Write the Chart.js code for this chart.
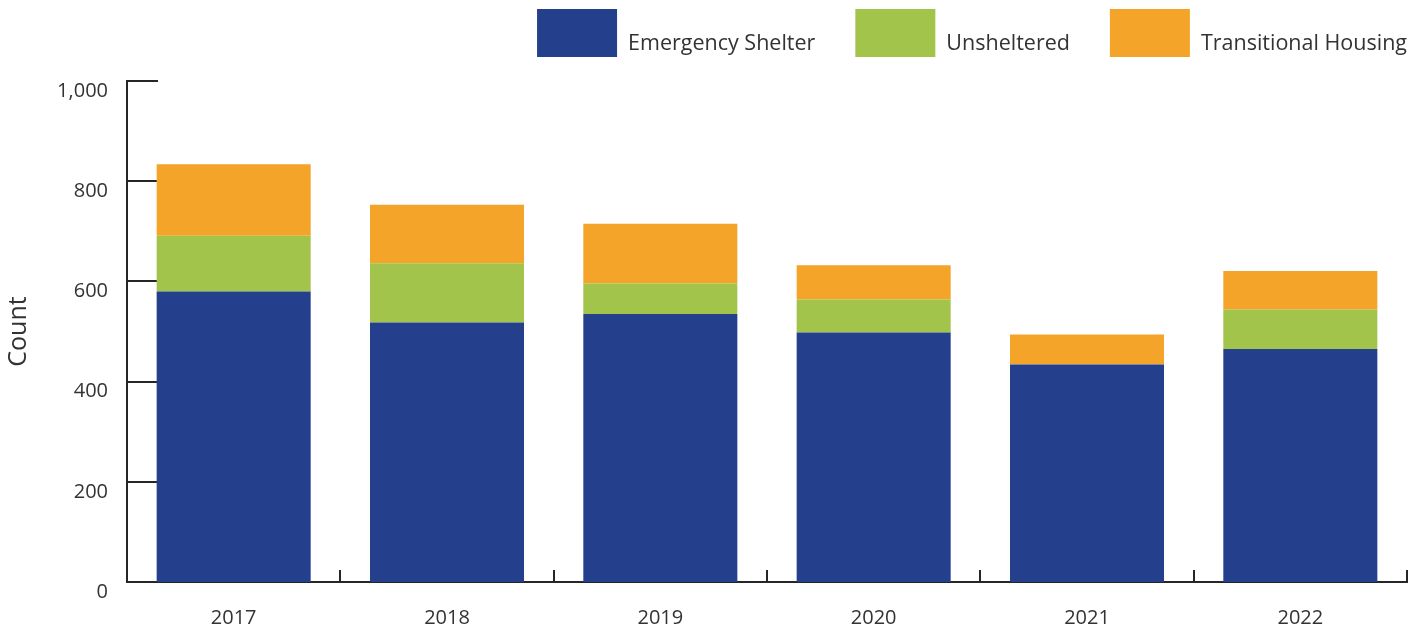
<!DOCTYPE html>
<html>
<head>
<meta charset="utf-8">
<script src="https://cdn.jsdelivr.net/npm/chart.js@4/dist/chart.umd.min.js"></script>
<style>
  html, body { margin: 0; padding: 0; background: #fff; }
  #wrap { width: 1424px; height: 635px; }
</style>
</head>
<body>
<div id="wrap"><canvas id="countChart"></canvas></div>
<script>
const years = ['2017', '2018', '2019', '2020', '2021', '2022'];
const emergencyShelter = [580, 518, 535, 498, 434, 465];
const unsheltered = [111, 118, 61, 66, 0, 79];
const transitionalHousing = [143, 117, 119, 68, 60, 77];
const yTicks = [0, 200, 400, 600, 800, 1000];

const FONT = "'Open Sans', 'Noto Sans', sans-serif";
const INK = '#333333';
const AXIS = '#262626';

// short inward ticks on both axes, drawn under the bars
const innerTicks = {
  id: 'innerTicks',
  beforeDatasetsDraw(chart) {
    const { ctx, chartArea, scales: { x, y } } = chart;
    ctx.save();
    ctx.strokeStyle = AXIS;
    ctx.lineWidth = 2;
    ctx.beginPath();
    yTicks.forEach(v => {
      const py = Math.round(y.getPixelForValue(v));
      ctx.moveTo(chartArea.left, py);
      ctx.lineTo(chartArea.left + 31, py);
    });
    for (let i = 0; i <= years.length; i++) {
      let px;
      if (i === 0) px = chartArea.left;
      else if (i === years.length) px = chartArea.right;
      else px = (x.getPixelForTick(i - 1) + x.getPixelForTick(i)) / 2;
      px = Math.round(px);
      ctx.moveTo(px, chartArea.bottom);
      ctx.lineTo(px, chartArea.bottom - 12);
    }
    ctx.stroke();
    ctx.restore();
  }
};

// legend row of big swatches, right aligned over the plot
const swatchLegend = {
  id: 'swatchLegend',
  afterDraw(chart) {
    const { ctx, chartArea } = chart;
    const boxW = 80, boxH = 48, boxTop = 9, gap = 11, spacing = 40;
    ctx.save();
    ctx.font = '21.5px ' + FONT;
    ctx.textBaseline = 'middle';
    ctx.textAlign = 'left';
    const items = chart.data.datasets.map(ds => ({
      label: ds.label, color: ds.backgroundColor, w: ctx.measureText(ds.label).width
    }));
    let total = items.reduce((s, it) => s + boxW + gap + it.w, 0) + spacing * (items.length - 1);
    let cx = chartArea.right - total;
    items.forEach(it => {
      ctx.fillStyle = it.color;
      ctx.fillRect(cx, boxTop, boxW, boxH);
      ctx.fillStyle = INK;
      ctx.fillText(it.label, cx + boxW + gap, 44);
      cx += boxW + gap + it.w + spacing;
    });
    ctx.restore();
  }
};

new Chart(document.getElementById('countChart'), {
  type: 'bar',
  data: {
    labels: years,
    datasets: [
      { label: 'Emergency Shelter', data: emergencyShelter, backgroundColor: '#243f8c' },
      { label: 'Unsheltered', data: unsheltered, backgroundColor: '#a2c44a' },
      { label: 'Transitional Housing', data: transitionalHousing, backgroundColor: '#f4a529' }
    ]
  },
  options: {
    responsive: true,
    maintainAspectRatio: false,
    animation: false,
    layout: { padding: { top: 81, right: 17, left: 0, bottom: 0 } },
    datasets: { bar: { categoryPercentage: 1, barPercentage: 0.722, borderWidth: 0 } },
    plugins: {
      legend: { display: false },
      tooltip: { enabled: false }
    },
    scales: {
      x: {
        stacked: true,
        grid: { display: false, drawTicks: false },
        border: { display: true, color: AXIS, width: 2 },
        ticks: { color: INK, font: { family: FONT, size: 20 }, padding: 24 },
        afterFit: s => { s.height = 53; }
      },
      y: {
        stacked: true,
        min: 0,
        max: 1000,
        afterBuildTicks: s => { s.ticks = yTicks.map(v => ({ value: v })); },
        grid: { display: false, drawTicks: false },
        border: { display: true, color: AXIS, width: 2 },
        ticks: {
          color: INK,
          font: { family: FONT, size: 20 },
          padding: 19,
          labelOffset: 10,
          callback: v => v.toLocaleString('en-US')
        },
        title: {
          display: true,
          text: 'Count',
          color: INK,
          font: { family: FONT, size: 25 },
          padding: { top: 4, bottom: 0 }
        },
        afterFit: s => { s.width = 127; }
      }
    }
  },
  plugins: [innerTicks, swatchLegend]
});
</script>
</body>
</html>
